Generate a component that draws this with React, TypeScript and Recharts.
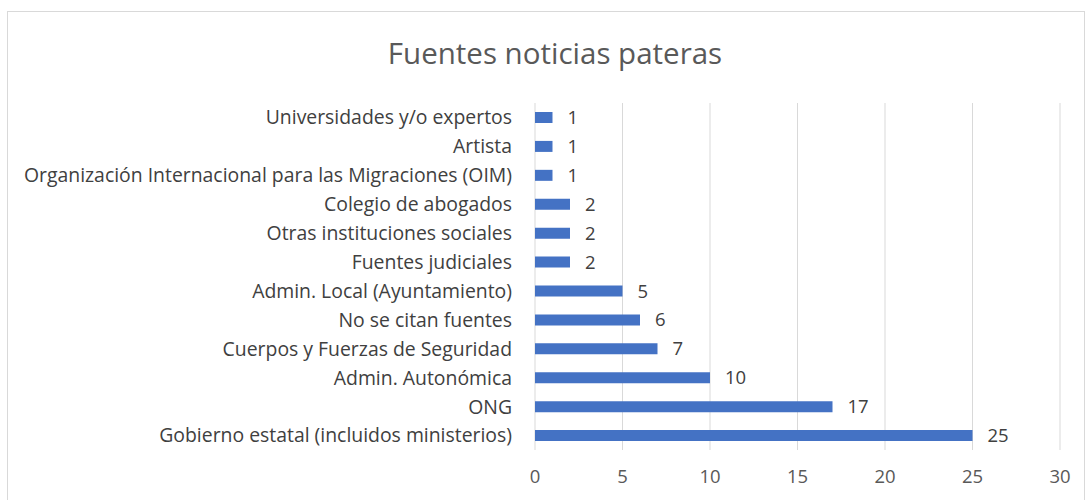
import React from "react";
import { BarChart, Bar, XAxis, YAxis, CartesianGrid, LabelList } from "recharts";

const categories = [
  "Universidades y/o expertos",
  "Artista",
  "Organización Internacional para las Migraciones (OIM)",
  "Colegio de abogados",
  "Otras instituciones sociales",
  "Fuentes judiciales",
  "Admin. Local (Ayuntamiento)",
  "No se citan fuentes",
  "Cuerpos y Fuerzas de Seguridad",
  "Admin. Autonómica",
  "ONG",
  "Gobierno estatal (incluidos ministerios)",
];
const values = [1, 1, 1, 2, 2, 2, 5, 6, 7, 10, 17, 25];
const xTicks = [0, 5, 10, 15, 20, 25, 30];
const title = "Fuentes noticias pateras";

const data = categories.map((name, i) => ({ name, value: values[i] }));

const FONT = "'Open Sans', Lato, sans-serif";

export default function App() {
  return (
    <div style={{ position: "absolute", left: 0, top: 0, width: 1089, height: 500, background: "#fff", overflow: "hidden", fontFamily: FONT }}>
      <div style={{ position: "absolute", left: 7, top: 11, width: 1078, height: 500, border: "1px solid #d9d9d9", boxSizing: "border-box" }} />
      <div style={{ position: "absolute", left: 0, top: 33, width: 1110, textAlign: "center", fontSize: 29.5, color: "#595959", lineHeight: "40px" }}>{title}</div>
      <div style={{ position: "absolute", left: 0, top: 0 }}>
        <BarChart
          width={1089}
          height={500}
          data={data}
          layout="vertical"
          margin={{ top: 103, right: 29, bottom: 20, left: 0 }}
          barCategoryGap={0}
        >
          <CartesianGrid horizontal={false} vertical={true} stroke="#d9d9d9" />
          <XAxis
            type="number"
            domain={[0, 30]}
            ticks={xTicks}
            axisLine={false}
            tickLine={false}
            height={30}
            tick={{ fill: "#595959", fontSize: 18.5, fontFamily: FONT }}
            tickMargin={14}
            interval={0}
          />
          <YAxis
            type="category"
            dataKey="name"
            width={535}
            axisLine={false}
            tickLine={false}
            tickMargin={17}
            interval={0}
            tick={{ fill: "#404040", fontSize: 19.4, fontFamily: FONT }}
          />
          <Bar dataKey="value" fill="#4472C4" barSize={11} isAnimationActive={false}>
            <LabelList dataKey="value" position="right" offset={15} fill="#404040" fontSize={18.5} fontFamily={FONT} />
          </Bar>
        </BarChart>
      </div>
    </div>
  );
}
